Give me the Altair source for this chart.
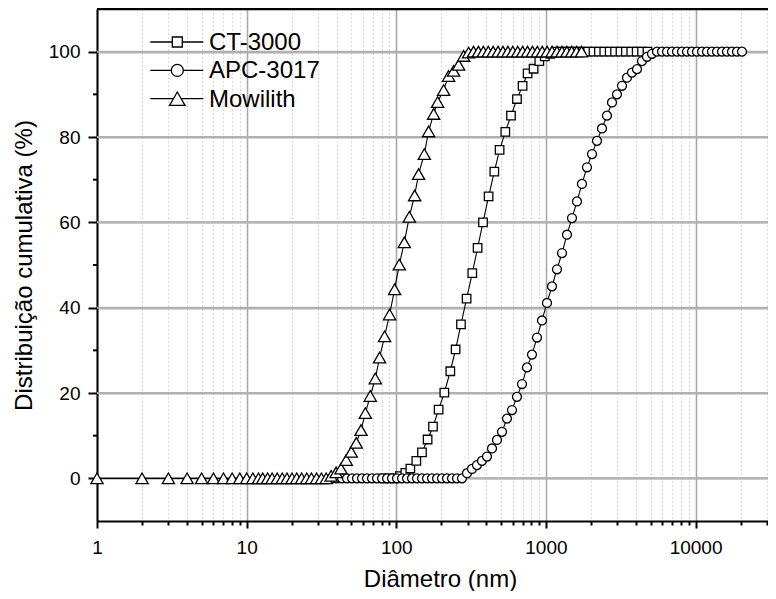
import altair as alt
import pandas as pd

# ---------------- data ----------------
series_names = ["CT-3000", "APC-3017", "Mowilith"]

ct_d = [82.4, 89.5, 97.3, 105.7, 114.9, 124.1, 136.1, 148.5, 161.9, 175.9,
        191.8, 209.4, 229.6, 249.1, 270.6, 295.0, 322.0, 349.4, 379.7, 413.9,
        451.8, 490.2, 535.2, 584.1, 640.5, 698.2, 754.2, 827.0, 902.8, 982.4,
        1069, 1162, 1262, 1372, 1490, 1619, 1760, 1912, 2078, 2258,
        2453, 2666, 2897, 3148, 3420, 3716, 4038, 4388, 4768]
ct_y = [0, 0, 0, 0.5, 1.3, 2.3, 4.1, 6.1, 9.1, 12.1,
        16.1, 20.1, 25.1, 30.2, 36.1, 42.1, 48.1, 54.0, 60.0, 66.1,
        71.9, 77.0, 81.2, 85.0, 88.9, 92.0, 94.9, 96.0, 97.8, 98.9,
        99.5, 100, 100, 100, 100, 100, 100, 100, 100, 100,
        100, 100, 100, 100, 100, 100, 100, 100, 100]

apc_d = [37.2, 40.1, 43.4, 46.8, 50.6, 54.6, 59.0, 63.7, 68.8, 74.3,
         80.3, 86.7, 93.6, 101.1, 109.2, 117.9, 127.3, 137.5, 148.5, 160.4,
         173.2, 187.1, 202.0, 218.2, 235.6, 254.4, 274.8, 296.8, 320.5, 346.1,
         373.8, 403.6, 436.0, 470.8, 508.5, 549.1, 593.0, 640.4, 691.6, 746.9,
         806.6, 871.1, 940.9, 1016, 1097, 1185, 1280, 1382, 1493, 1612,
         1741, 1880, 2031, 2193, 2369, 2558, 2763, 2984, 3222, 3480,
         3758, 4059, 4384, 4734, 5113, 5521, 5963, 6440, 6955, 7511,
         8111, 8761, 9461, 10217, 11034, 11916, 12869, 13898, 15009, 16209,
         17505, 18910, 20417]
apc_y = [0, 0, 0, 0, 0, 0, 0, 0, 0, 0,
         0, 0, 0, 0, 0, 0, 0, 0, 0, 0,
         0, 0, 0, 0, 0, 0, 0, 1.2, 2.2, 3.1,
         4.1, 5.1, 7.0, 9.0, 10.9, 14.0, 16.0, 19.1, 22.1, 26.0,
         29.0, 33.0, 37.0, 41.1, 45.0, 49.0, 52.8, 57.1, 61.0, 64.9,
         69.0, 72.9, 76.0, 79.1, 82.0, 85.0, 88.1, 90.0, 92.0, 93.9,
         95.1, 95.9, 97.8, 98.8, 99.5, 100, 100, 100, 100, 100,
         100, 100, 100, 100, 100, 100, 100, 100, 100, 100,
         100, 100, 100]

mow_d = [1, 2, 3, 4, 5, 6, 7, 8, 9, 10,
         11, 12, 12.8, 13.8, 14.8, 16.0, 17.3, 18.6, 20.1, 21.6,
         23.3, 25.2, 27.1, 29.3, 31.6, 34.0, 36.7, 39.6, 42.7, 46.3,
         50.0, 54.0, 58.1, 62.1, 67.0, 72.4, 77.3, 83.5, 90.2, 97.4,
         104.7, 113.1, 122.2, 132.6, 140.9, 153.8, 164.4, 177.6, 188.8, 207.1,
         223.6, 241.5, 260.9, 281.7, 304.2, 328.1, 353.8, 381.6, 411.6, 443.9,
         478.7, 516.3, 556.8, 600.5, 647.7, 698.5, 753.4, 812.5, 876.3, 945.1,
         1019, 1099, 1186, 1279, 1379, 1487, 1604, 1730]
mow_y = [0, 0, 0, 0, 0, 0, 0, 0, 0, 0,
         0, 0, 0, 0, 0, 0, 0, 0, 0, 0,
         0, 0, 0, 0, 0, 0, 0.6, 1.4, 2.3, 4.3,
         6.2, 8.3, 11.3, 15.3, 19.3, 23.4, 28.3, 33.3, 38.4, 44.3,
         50.1, 55.3, 61.3, 66.3, 71.3, 76.0, 81.3, 85.4, 88.2, 91.0,
         94.3, 95.5, 96.9, 99.0, 99.8, 100, 100, 100, 100, 100,
         100, 100, 100, 100, 100, 100, 100, 100, 100, 100,
         100, 100, 100, 100, 100, 100, 100, 100]

x_ticks = [1, 2, 3, 4, 5, 6, 7, 8, 9,
           10, 20, 30, 40, 50, 60, 70, 80, 90,
           100, 200, 300, 400, 500, 600, 700, 800, 900,
           1000, 2000, 3000, 4000, 5000, 6000, 7000, 8000, 9000,
           10000, 20000, 30000]
y_major = [0, 20, 40, 60, 80, 100]
y_minor = [10, 30, 50, 70, 90]

# ---------------- layout / style ----------------
W, H = 671, 512
FONT = "Liberation Sans"
GRID = "#b0b0b0"

major_x = "abs(log(datum.value)/LN10 - round(log(datum.value)/LN10)) < 0.001"

x_axis = alt.Axis(
    values=x_ticks,
    title="Diâmetro (nm)",
    grid=True,
    labelExpr=f"({major_x}) ? format(datum.value, 'd') : ''",
    tickSize={"condition": {"test": major_x, "value": 7}, "value": 4},
    gridColor={"condition": {"test": major_x, "value": "#a9a9a9"}, "value": "#cfcfcf"},
    gridDash={"condition": {"test": major_x, "value": [1, 0]}, "value": [1.5, 2.5]},
    gridWidth={"condition": {"test": major_x, "value": 1.6}, "value": 1},
    labelOverlap=False,
    labelFlush=False,
    labelPadding=25,
    labelBaseline="alphabetic",
    titleBaseline="alphabetic",
    titleX=343,
    titleY=65,
)
y_axis = alt.Axis(
    values=y_major,
    title="Distribuição cumulativa (%)",
    grid=True,
    gridColor=GRID,
    gridWidth=2,
    tickSize=9,
    labelPadding=8,
    labelOverlap=False,
    titleAngle=270,
    titleAlign="center",
    titleBaseline="alphabetic",
    titleX=-66,
    titleY=256,
)

xscale = alt.Scale(type="log", domain=[1, 30470], nice=False)
yscale = alt.Scale(domain=[-10, 110], nice=False, zero=False)
X = alt.X("d:Q", scale=xscale, axis=x_axis)
Y = alt.Y("y:Q", scale=yscale, axis=y_axis)

series = [
    (pd.DataFrame({"d": ct_d, "y": ct_y}), "square", 72),
    (pd.DataFrame({"d": apc_d, "y": apc_y}), "circle", 80),
    (pd.DataFrame({"d": mow_d, "y": mow_y}), "triangle-up", 150),
]

layers = []
# horizontal major grid lines (same colour as the axis grid)
layers.append(
    alt.Chart(pd.DataFrame({"y": y_major}))
    .mark_rule(color=GRID, strokeWidth=2, opacity=1)
    .encode(y=Y, x=alt.value(0), x2=alt.value(W))
)
# minor y ticks, outside the plot area
layers.append(
    alt.Chart(pd.DataFrame({"y": y_minor}))
    .mark_rule(color="black", strokeWidth=2)
    .encode(y=Y, x=alt.value(-4), x2=alt.value(0))
)
for df, shape, size in series:
    layers.append(
        alt.Chart(df).mark_line(color="black", strokeWidth=1.1).encode(x=X, y=Y)
    )
    layers.append(
        alt.Chart(df).mark_point(shape=shape, size=size, filled=True, fill="white",
                                 stroke="black", strokeWidth=1.3, opacity=1)
        .encode(x=X, y=Y)
    )

one = pd.DataFrame({"k": [0]})
# top frame line
layers.append(
    alt.Chart(one).mark_rule(color="black", strokeWidth=2.5)
    .encode(x=alt.value(0), x2=alt.value(W), y=alt.value(0))
)

# legend
leg_shapes = [("square", 100), ("circle", 144), ("triangle-up", 240)]
leg_y = [33, 61.4, 89.7]
for name, (shape, size), cy in zip(series_names, leg_shapes, leg_y):
    layers.append(
        alt.Chart(one).mark_rule(color="black", strokeWidth=1.3)
        .encode(x=alt.value(53.3), x2=alt.value(106.3), y=alt.value(cy))
    )
    layers.append(
        alt.Chart(one).mark_point(shape=shape, size=size, filled=True, fill="white",
                                  stroke="black", strokeWidth=1.3, opacity=1)
        .encode(x=alt.value(80.3), y=alt.value(cy))
    )
    layers.append(
        alt.Chart(pd.DataFrame({"label": [name]}))
        .mark_text(align="left", baseline="alphabetic", fontSize=24, font=FONT, color="black")
        .encode(x=alt.value(112), y=alt.value(cy + 7.8), text="label:N")
    )

chart = (
    alt.layer(*layers)
    .properties(
        width=W, height=H,
        padding={"left": 89, "top": 1, "right": 0, "bottom": 70},
        autosize=alt.AutoSizeParams(type="none"),
        background="white",
    )
    .configure_view(stroke=None)
    .configure_axis(
        labelFont=FONT, titleFont=FONT,
        labelFontSize=19, titleFontSize=24, titleFontWeight="normal",
        labelColor="black", titleColor="black",
        domainColor="black", domainWidth=2,
        tickColor="black", tickWidth=2,
    )
)

chart.save("out.html", embed_options={"renderer": "svg", "actions": False})
